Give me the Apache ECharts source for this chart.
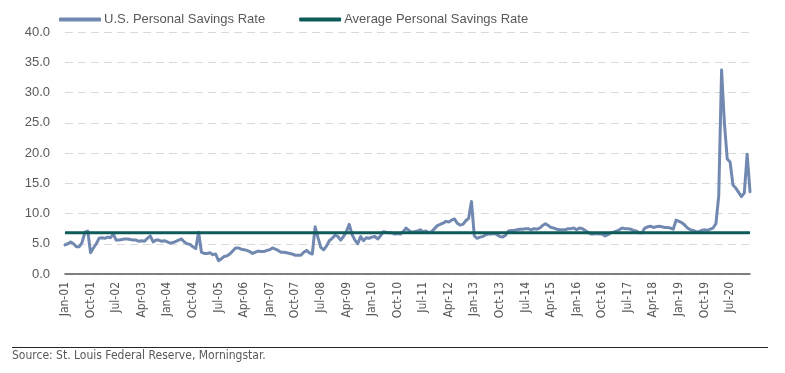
<!DOCTYPE html>
<html>
<head>
<meta charset="utf-8">
<script src="https://cdn.jsdelivr.net/npm/echarts@6/dist/echarts.min.js"></script>
<style>html,body{margin:0;padding:0;background:#fff;}#c{width:785px;height:373px;}</style>
</head>
<body>
<div id="c"></div>
<script>
// Month labels Jan-01 .. Feb-21
var monthNames = ['Jan','Feb','Mar','Apr','May','Jun','Jul','Aug','Sep','Oct','Nov','Dec'];
var firstYear = 2001, lastYear = 2021, lastYearMonths = 2;

// U.S. Personal Savings Rate (%), monthly
var savings2001 = [4.8, 5.0, 5.3, 5.0, 4.5, 4.5, 5.2, 6.9, 7.1, 3.5, 4.3, 5.0];
var savings2002 = [5.9, 6.0, 5.9, 6.1, 6.0, 6.6, 5.6, 5.6, 5.7, 5.8, 5.8, 5.7];
var savings2003 = [5.6, 5.6, 5.4, 5.5, 5.4, 5.9, 6.3, 5.3, 5.6, 5.6, 5.4, 5.5];
var savings2004 = [5.3, 5.1, 5.2, 5.4, 5.6, 5.8, 5.3, 5.0, 4.9, 4.5, 4.2, 6.9];
var savings2005 = [3.6, 3.4, 3.4, 3.5, 3.2, 3.3, 2.2, 2.5, 2.9, 3.0, 3.3, 3.8];
var savings2006 = [4.3, 4.3, 4.1, 4.0, 3.9, 3.7, 3.4, 3.6, 3.8, 3.7, 3.7, 3.9];
var savings2007 = [4.0, 4.3, 4.1, 3.9, 3.6, 3.6, 3.5, 3.4, 3.3, 3.1, 3.1, 3.1];
var savings2008 = [3.6, 3.9, 3.5, 3.3, 7.8, 6.0, 4.4, 4.0, 4.6, 5.5, 5.9, 6.4];
var savings2009 = [6.2, 5.6, 6.2, 7.0, 8.2, 6.5, 5.6, 5.0, 6.2, 5.5, 6.0, 5.9];
var savings2010 = [6.1, 6.2, 5.8, 6.3, 7.0, 6.9, 6.8, 6.8, 6.6, 6.7, 6.6, 7.0];
var savings2011 = [7.6, 7.2, 6.9, 7.0, 7.1, 7.3, 7.0, 7.1, 6.8, 7.0, 7.5, 8.0];
var savings2012 = [8.2, 8.4, 8.7, 8.6, 8.9, 9.1, 8.4, 8.1, 8.2, 8.8, 9.2, 12.0];
var savings2013 = [6.3, 5.9, 6.1, 6.2, 6.5, 6.6, 6.6, 6.7, 6.5, 6.2, 6.1, 6.4];
var savings2014 = [7.1, 7.2, 7.2, 7.3, 7.4, 7.4, 7.5, 7.5, 7.3, 7.5, 7.4, 7.6];
var savings2015 = [8.0, 8.3, 8.0, 7.7, 7.6, 7.4, 7.3, 7.3, 7.3, 7.5, 7.5, 7.6];
var savings2016 = [7.3, 7.6, 7.5, 7.2, 6.9, 6.6, 6.6, 6.7, 6.6, 6.6, 6.3, 6.5];
var savings2017 = [6.8, 6.9, 7.1, 7.3, 7.6, 7.5, 7.5, 7.4, 7.2, 7.1, 6.8, 6.8];
var savings2018 = [7.6, 7.8, 7.9, 7.7, 7.8, 7.9, 7.8, 7.7, 7.7, 7.6, 7.4, 8.9];
var savings2019 = [8.7, 8.5, 8.1, 7.6, 7.3, 7.2, 7.0, 7.0, 7.2, 7.3, 7.2, 7.4];
var savings2020 = [7.6, 8.3, 12.9, 33.7, 24.9, 19.0, 18.5, 14.7, 14.2, 13.5, 12.8, 13.4];
var savings2021 = [19.8, 13.6];

// Average Personal Savings Rate (%)
var averageRate = 6.8;

// Y axis ticks
var yMin = 0, yMax = 40, yStep = 5;

var categories = [];
for (var y = firstYear; y <= lastYear; y++) {
  var n = (y === lastYear) ? lastYearMonths : 12;
  for (var m = 0; m < n; m++) {
    categories.push(monthNames[m] + '-' + String(y % 100).padStart(2, '0'));
  }
}
var savings = [].concat(savings2001, savings2002, savings2003, savings2004, savings2005,
  savings2006, savings2007, savings2008, savings2009, savings2010, savings2011, savings2012,
  savings2013, savings2014, savings2015, savings2016, savings2017, savings2018, savings2019,
  savings2020, savings2021);
var average = categories.map(function () { return averageRate; });

var txt = '#595959';
var narrow = "'Liberation Sans Narrow', 'Arial Narrow', 'DejaVu Sans Condensed', sans-serif";
var regular = "'Liberation Sans', Arial, sans-serif";

var chart = echarts.init(document.getElementById('c'), null, {renderer: 'canvas'});
chart.setOption({
  animation: false,
  backgroundColor: '#ffffff',
  legend: {
    left: 54, top: 8,
    itemWidth: 42, itemHeight: 4, itemGap: 34,
    icon: 'roundRect',
    textStyle: {color: txt, fontSize: 13, fontFamily: regular, padding: [0, 0, 0, -2]},
    data: ['U.S. Personal Savings Rate', 'Average Personal Savings Rate']
  },
  grid: {left: 65, right: 35, top: 32, bottom: 99, containLabel: false},
  xAxis: {
    type: 'category',
    data: categories,
    boundaryGap: false,
    axisLine: {show: true, lineStyle: {color: '#595959', width: 1.5}},
    axisTick: {show: false},
    axisLabel: {
      interval: 8, rotate: 90, color: txt, fontSize: 12, fontFamily: narrow, margin: 8
    },
    splitLine: {show: false}
  },
  yAxis: {
    type: 'value',
    min: yMin, max: yMax, interval: yStep,
    axisLine: {show: false},
    axisTick: {show: false},
    axisLabel: {
      color: txt, fontSize: 13, fontFamily: regular, margin: 15,
      formatter: function (v) { return v.toFixed(1); }
    },
    splitLine: {show: true, lineStyle: {color: '#D9D9D9', type: [8, 5], width: 1}}
  },
  series: [
    {
      name: 'U.S. Personal Savings Rate',
      type: 'line',
      data: savings,
      showSymbol: false,
      symbol: 'none',
      lineStyle: {color: '#7189B0', width: 3, join: 'round', cap: 'round'},
      itemStyle: {color: '#7189B0'}
    },
    {
      name: 'Average Personal Savings Rate',
      type: 'line',
      data: average,
      showSymbol: false,
      symbol: 'none',
      lineStyle: {color: '#0E5C5A', width: 3},
      itemStyle: {color: '#0E5C5A'}
    }
  ],
  graphic: [
    {
      type: 'line',
      shape: {x1: 12, y1: 347.5, x2: 768, y2: 347.5},
      style: {stroke: '#262626', lineWidth: 1}
    },
    {
      type: 'text',
      left: 12, top: 350,
      style: {text: 'Source: St. Louis Federal Reserve, Morningstar.', fill: txt, fontSize: 12, fontFamily: narrow}
    }
  ]
});
</script>
</body>
</html>
